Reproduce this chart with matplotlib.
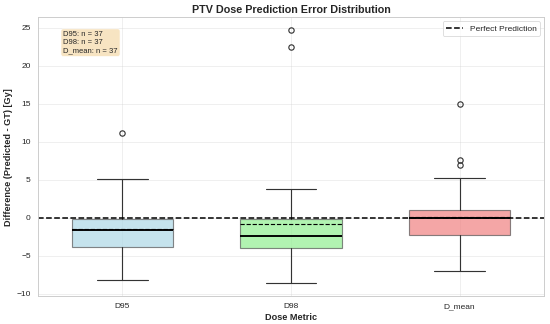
import matplotlib
matplotlib.use("Agg")
import matplotlib.pyplot as plt
import seaborn as sns

# Box statistics (Gy)
metrics = ['D95', 'D98', 'D_mean']
n_cases = [37, 37, 37]
q1 = [-3.82, -3.95, -2.32]
medians = [-1.62, -2.37, 0.0]
q3 = [-0.17, -0.17, 1.01]
means = [-1.42, -0.83, 0.10]
whisker_lo = [-8.2, -8.63, -6.97]
whisker_hi = [5.05, 3.78, 5.18]
outliers = [[11.2], [24.7, 22.5], [15.0, 7.6, 6.9]]
box_colors = ['lightblue', 'lightgreen', 'lightcoral']

sns.set_theme(style='whitegrid')
plt.rcParams['font.family'] = ['Liberation Sans', 'DejaVu Sans']

dpi = 55
fig, ax = plt.subplots(figsize=(550 / dpi, 324 / dpi), dpi=dpi)

stats = []
for i in range(len(metrics)):
    stats.append(dict(label=metrics[i], q1=q1[i], med=medians[i], q3=q3[i],
                      mean=means[i], whislo=whisker_lo[i], whishi=whisker_hi[i],
                      fliers=outliers[i]))

bp = ax.bxp(stats, widths=0.6, patch_artist=True, showmeans=True, meanline=True,
            boxprops=dict(edgecolor='#555555', linewidth=1.5),
            whiskerprops=dict(color='#333333', linewidth=1.5),
            capprops=dict(color='#333333', linewidth=1.5),
            medianprops=dict(color='black', linewidth=2.5),
            meanprops=dict(color='black', linestyle='--', linewidth=1.5),
            flierprops=dict(marker='o', markerfacecolor='none',
                            markeredgecolor='#333333', markersize=7, markeredgewidth=1.5))
for patch, color in zip(bp['boxes'], box_colors):
    patch.set_facecolor(color)
    patch.set_alpha(0.7)

ax.axhline(0, color='black', linestyle='--', linewidth=2, label='Perfect Prediction')

ax.set_xlabel('Dose Metric', fontsize=12, fontweight='bold')
ax.set_ylabel('Difference (Predicted - GT) [Gy]', fontsize=12, fontweight='bold')
ax.set_title('PTV Dose Prediction Error Distribution', fontsize=14, fontweight='bold')
ax.legend(loc='upper right', fontsize=11)
ax.tick_params(labelsize=11)
ax.grid(True, alpha=0.4)

info = '\n'.join(f'{m}: n = {n}' for m, n in zip(metrics, n_cases))
ax.text(0.05, 0.95, info, transform=ax.transAxes, fontsize=10, va='top',
        bbox=dict(boxstyle='round', facecolor='wheat', alpha=0.8))

fig.subplots_adjust(left=0.069, right=0.989, top=0.947, bottom=0.086)
fig.savefig('out.png')
